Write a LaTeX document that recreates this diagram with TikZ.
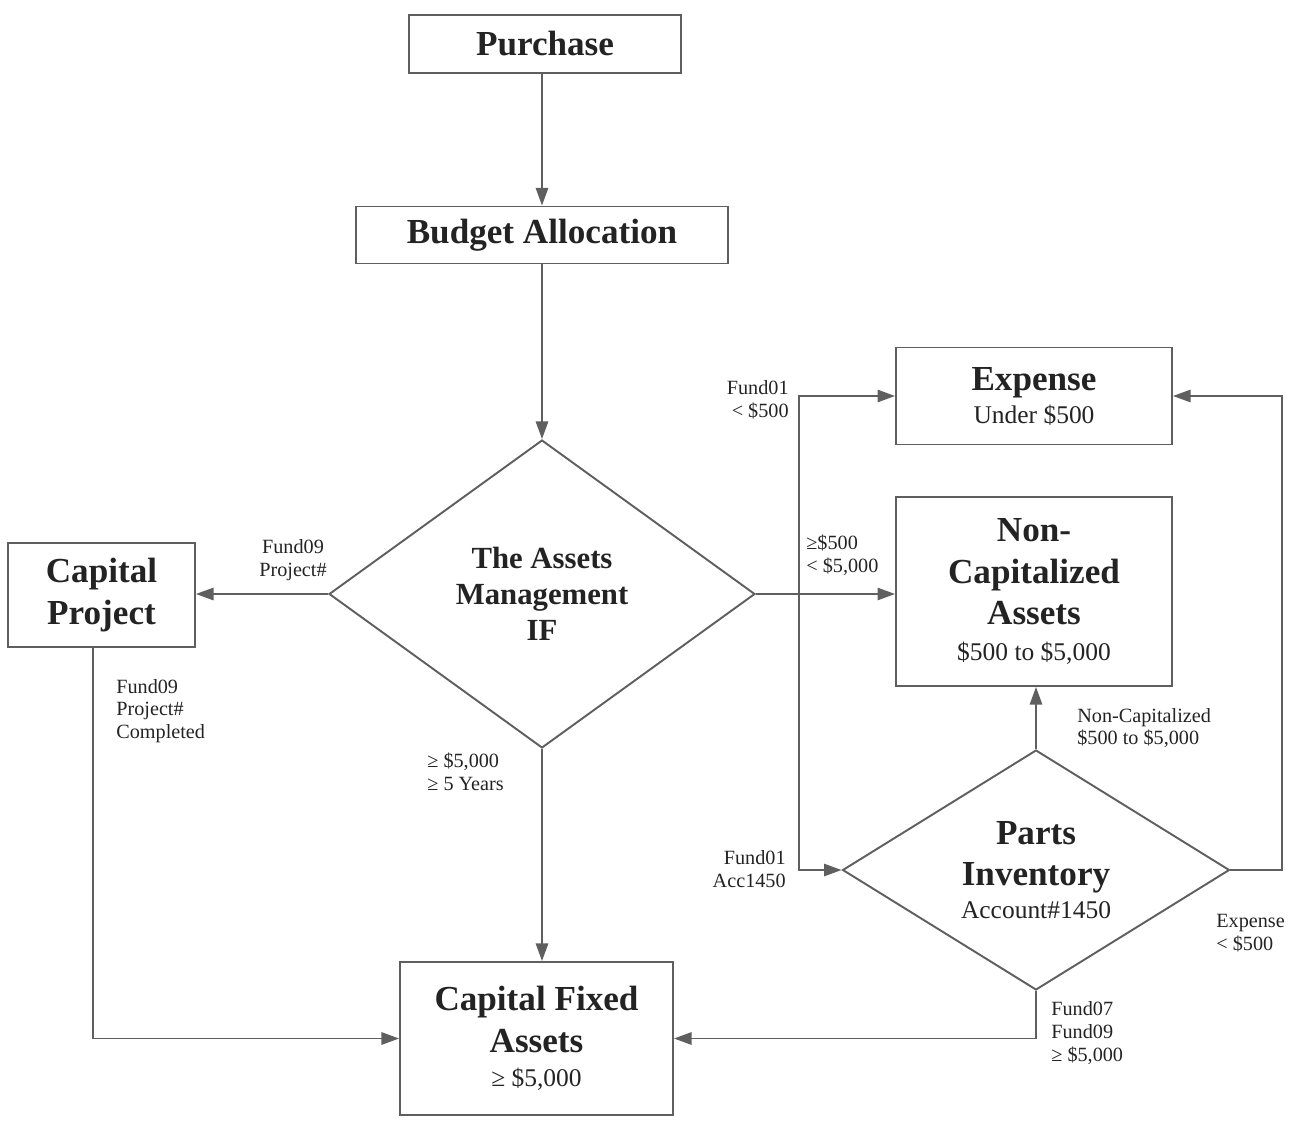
\documentclass[tikz,border=0pt]{standalone}
\usepackage{fontspec}
\setmainfont{Liberation Serif}
\usetikzlibrary{shapes.geometric,arrows.meta}
\definecolor{linegray}{RGB}{95,95,95}
\definecolor{inkgray}{RGB}{35,35,35}
\newcommand{\ttlfont}{\fontsize{20}{23.5}\selectfont\bfseries}
\newcommand{\subfont}{\fontsize{14.5}{17}\selectfont\mdseries}
\newcommand{\lblfont}{\fontsize{11.5}{13}\selectfont}
\tikzset{
  box/.style={draw=linegray, line width=1.1pt, rectangle, inner sep=2pt,
    align=center, text=inkgray, font=\ttlfont},
  decide/.style={draw=linegray, line width=1.1pt, diamond, inner sep=0pt,
    align=center, text=inkgray},
  arr/.style={draw=linegray, line width=1.1pt, -{Triangle[length=10pt,width=7pt]}},
  lbl/.style={font=\lblfont, inner sep=0pt, text=inkgray},
}
\begin{document}
\begin{tikzpicture}[x=0.02cm,y=-0.02cm]
	\useasboundingbox (0,0) rectangle (1298,1132);

	% boxes
	\node[box, minimum width=5.44cm, minimum height=1.16cm] (purchase) at (545,44) {Purchase};
	\node[box, minimum width=7.44cm, minimum height=1.14cm] (budget) at (542,235) {Budget Allocation};
	\node[decide, minimum width=8.52cm, minimum height=6.16cm, aspect=1.38,
		font=\fontsize{17.5}{20.5}\selectfont\bfseries] (assets) at (542,594)
		{The Assets\\Management\\IF};
	\node[box, minimum width=3.74cm, minimum height=2.08cm] (capproj) at (101.5,595) {Capital\\Project};
	\node[box, minimum width=5.52cm, minimum height=1.94cm] (expense) at (1034,396)
		{Expense\\[-4.7pt]{\subfont Under \$500}};
	\node[box, minimum width=5.52cm, minimum height=3.78cm] (noncap) at (1034,591.5)
		{Non-\\Capitalized\\Assets\\[-3pt]{\subfont \$500 to \$5,000}};
	\node[decide, minimum width=7.74cm, minimum height=4.8cm, aspect=1.6,
		font=\ttlfont] (parts) at (1036,870)
		{Parts\\Inventory\\[-4.7pt]{\subfont Account\#1450}};
	\node[box, minimum width=5.46cm, minimum height=3.06cm] (fixed) at (536.5,1038.5)
		{Capital Fixed\\Assets\\[-4pt]{\subfont ≥ \$5,000}};

	\coordinate (fork) at (799,594);
	\coordinate (loopr) at (1282,870);

	% connectors
	\draw[arr] (budget.north |- purchase.south) -- (budget.north);
	\draw[arr] (budget) -- (assets);
	\draw[arr] (assets.west) -- (capproj.east |- assets.west);
	\draw[arr] (assets.east) -- (noncap.west |- assets.east);
	\draw[arr] (fork) |- (expense.west);
	\draw[arr] (fork) |- (parts.west);
	\draw[arr] (assets.south) -- (assets.south |- fixed.north);
	\draw[arr] ([xshift=-0.17cm]capproj.south) |- (fixed.west);
	\draw[arr] (parts.south) |- (fixed.east);
	\draw[arr] (parts.north) -- (parts.north |- noncap.south);
	\draw[arr] (parts.east) -- (loopr) |- (expense.east);

	% labels
	\node[lbl, align=center] (lfundp) at (293,560) {Fund09\\Project\#};
	\node[lbl, align=left, anchor=west] (lmid) at (806,555) {≥\$500\\< \$5,000};
	\node[lbl, align=right, anchor=east] (lexpl) at (789,400) {Fund01\\< \$500};
	\node[lbl, align=right, anchor=east] (lacc) at (786,869) {Fund01\\Acc1450};
	\node[lbl, align=left, anchor=west] (lbig) at (427,772) {≥ \$5,000\\≥ 5 Years};
	\node[lbl, align=left, anchor=west] (ldone) at (116,711) {Fund09\\Project\#\\Completed};
	\node[lbl, align=left, anchor=west] (lfunds) at (1051,1033) {Fund07\\Fund09\\≥ \$5,000};
	\node[lbl, align=left, anchor=west] (lnoncap) at (1077,728) {Non-Capitalized\\\$500 to \$5,000};
	\node[lbl, align=left, anchor=west] (lexpr) at (1216,933) {Expense\\< \$500};
\end{tikzpicture}
\end{document}
